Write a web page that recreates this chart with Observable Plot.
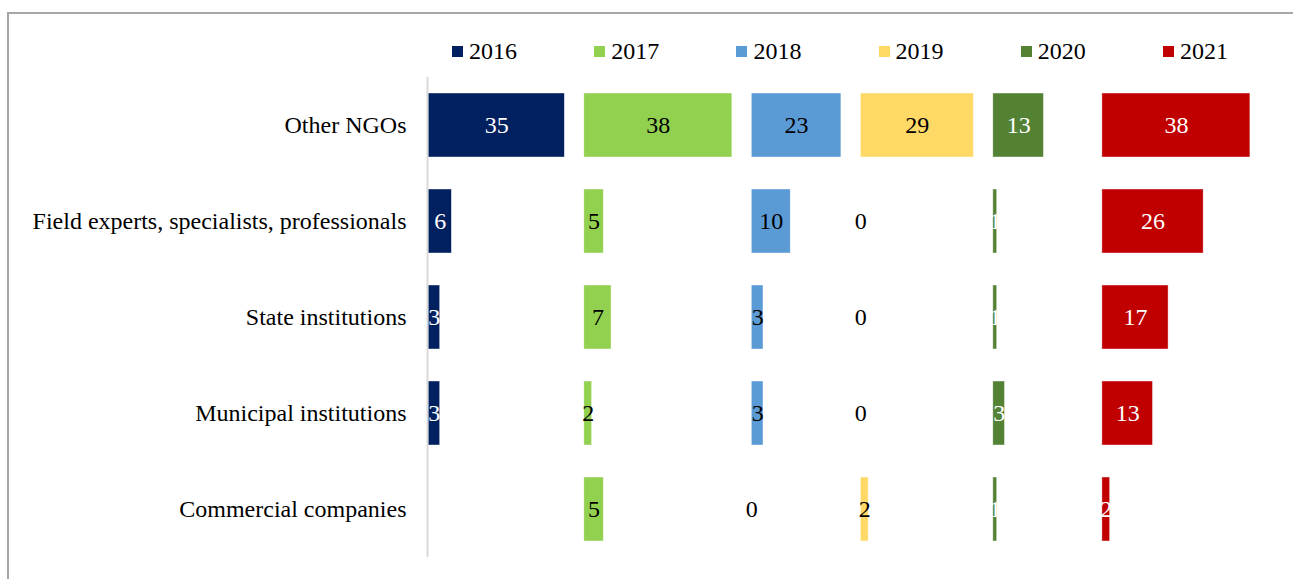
<!DOCTYPE html>
<html><head><meta charset="utf-8">
<script src="https://cdn.jsdelivr.net/npm/d3@7"></script>
<script src="https://cdn.jsdelivr.net/npm/@observablehq/plot@0.6"></script>
<style>
body{margin:0;background:#fff;font-family:"Liberation Serif","Times New Roman",serif;}
#wrap{position:relative;width:1293px;height:579px;overflow:hidden;background:#fff}
#frame{position:absolute;left:7px;top:12px;width:1400px;height:700px;border:2px solid #a6a6a6;box-sizing:border-box}
#legend{position:absolute;top:36px;left:452px;display:flex;}
.item{width:142.2px;display:flex;align-items:center;font-size:24px;line-height:30px;color:#000;font-family:"Liberation Serif","Times New Roman",serif}
.sw{width:11px;height:11px;margin-right:6px;flex:none}
#chart{position:absolute;left:0;top:0}
</style></head>
<body>
<div id="wrap">
  <div id="frame"></div>
  <div id="chart"></div>
  <div id="legend"></div>
</div>
<script>
const categories = ["Other NGOs","Field experts, specialists, professionals","State institutions","Municipal institutions","Commercial companies"];
const years = ["2016","2017","2018","2019","2020","2021"];
const v2016 = [35, 6, 3, 3, null];
const v2017 = [38, 5, 7, 2, 5];
const v2018 = [23, 10, 3, 3, 0];
const v2019 = [29, 0, 0, 0, 2];
const v2020 = [13, 1, 1, 3, 1];
const v2021 = [38, 26, 17, 13, 2];
// width of each year's panel (value + invisible spacer series), in data units
const panelWidth = [40, 43, 28, 34, 28, 46];

const colors = ["#002060","#92D050","#5B9BD5","#FFD966","#548235","#C00000"];
const labelColors = ["#ffffff","#000000","#000000","#000000","#ffffff","#ffffff"];

const series = [v2016, v2017, v2018, v2019, v2020, v2021];
const rows = [];
let offset = 0;
series.forEach((vals, i) => {
  vals.forEach((v, j) => {
    if (v == null) return;
    rows.push({year: years[i], cat: categories[j], v, x1: offset, x2: offset + v,
               xm: offset + v / 2, lc: v === 0 ? "#000000" : labelColors[i]});
  });
  offset += panelWidth[i];
});
const total = d3.sum(panelWidth);

const chart = Plot.plot({
  width: 1293, height: 579,
  marginLeft: 428, marginRight: 10, marginTop: 77, marginBottom: 22,
  style: {fontFamily: '"Liberation Serif","Times New Roman",serif', background: "transparent"},
  x: {domain: [0, total + 0.5], axis: null},
  y: {domain: categories, padding: 0, round: false, axis: null},
  color: {domain: years, range: colors},
  marks: [
    Plot.barX(rows.filter(d => d.v > 0), {x1: "x1", x2: "x2", y: "cat", fill: "year",
      insetTop: 16, insetBottom: 16, stroke: "#ffffff", strokeOpacity: 0.6, strokeWidth: 0.7}),
    Plot.ruleX([0], {stroke: "#d9d9d9", strokeWidth: 2, dx: -1}),
    Plot.text(rows, {x: "xm", y: "cat", text: d => String(d.v), fill: "lc", fontSize: 24,
      fontFamily: '"Liberation Serif","Times New Roman",serif'}),
    Plot.axisY({tickSize: 0, tickPadding: 22, fontSize: 24, fill: "#000", label: null})
  ]
});
document.getElementById("chart").appendChild(chart);

const leg = document.getElementById("legend");
years.forEach((y, i) => {
  const it = document.createElement("div");
  it.className = "item";
  it.innerHTML = `<span class="sw" style="background:${colors[i]}"></span><span>${y}</span>`;
  leg.appendChild(it);
});
</script>
</body></html>
